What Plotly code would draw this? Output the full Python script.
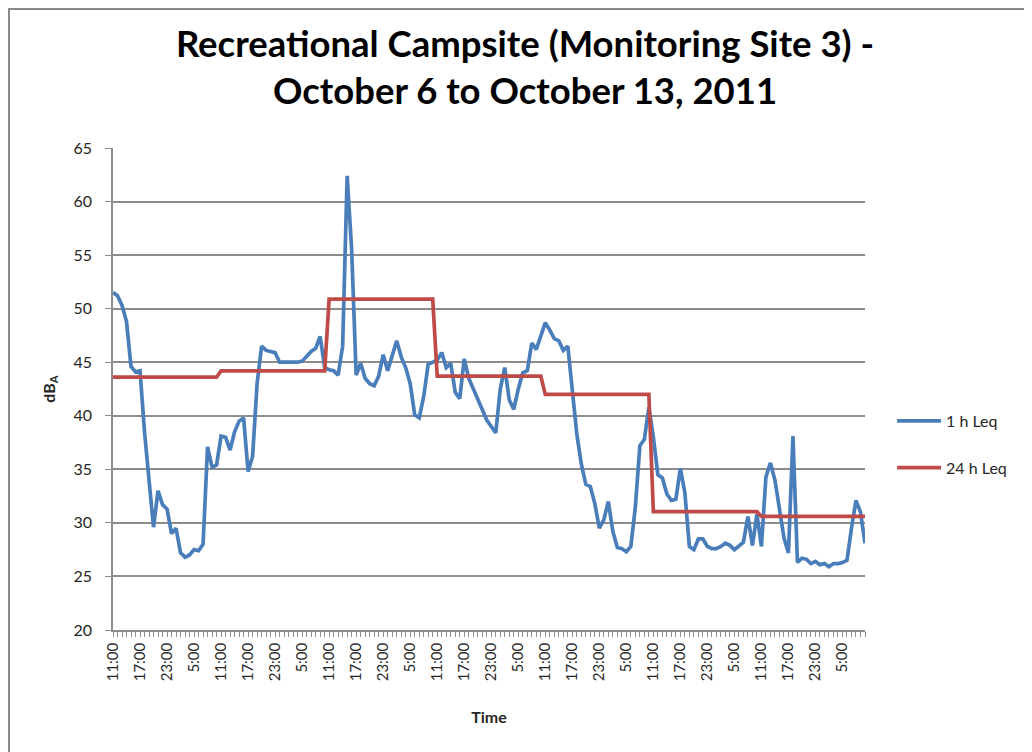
import plotly.graph_objects as go

# hourly readings, Oct 6 11:00 -> Oct 13 10:00 (168 hours)
leq_1h = [
    51.5, 51.2, 50.3, 48.8, 44.6, 44.1, 44.2, 38.5, 34.0, 29.6,
    33.0, 31.7, 31.3, 29.0, 29.5, 27.2, 26.8, 27.0, 27.5, 27.4,
    28.0, 37.1, 35.2, 35.4, 38.1, 38.0, 36.8, 38.5, 39.5, 39.8,
    34.8, 36.2, 43.0, 46.5, 46.1, 46.0, 45.9, 45.0, 45.0, 45.0,
    45.0, 45.0, 45.1, 45.6, 46.0, 46.3, 47.4, 44.5, 44.3, 44.2,
    43.8, 46.5, 62.4, 55.5, 43.8, 44.9, 43.5, 43.0, 42.8, 43.7,
    45.7, 44.2, 45.6, 47.0, 45.5, 44.5, 43.0, 40.1, 39.8, 41.8,
    44.8, 45.0, 45.2, 45.9, 44.5, 44.9, 42.2, 41.6, 45.3, 43.5,
    42.5, 41.4, 40.4, 39.6, 39.0, 38.4, 42.5, 44.5, 41.5, 40.6,
    42.5, 44.0, 44.2, 46.8, 46.2, 47.5, 48.7, 48.0, 47.2, 47.0,
    46.1, 46.5, 42.2, 38.3, 35.5, 33.6, 33.4, 31.8, 29.5, 30.3,
    32.0, 29.2, 27.7, 27.6, 27.3, 27.8, 31.5, 37.2, 37.8, 40.8,
    38.0, 34.5, 34.2, 32.7, 32.1, 32.2, 35.1, 32.8, 27.8, 27.5,
    28.5, 28.5, 27.8, 27.6, 27.6, 27.8, 28.1, 27.9, 27.5, 27.9,
    28.2, 30.6, 27.9, 30.8, 27.8, 34.3, 35.6, 34.0, 31.2, 28.6,
    27.2, 38.1, 26.3, 26.7, 26.6, 26.2, 26.4, 26.1, 26.2, 25.9,
    26.2, 26.2, 26.3, 26.5, 29.5, 32.1, 31.0, 28.1,
]

# one 24 h value per day window (11:00 to 10:00)
leq_24h_daily = [43.6, 44.2, 50.9, 43.7, 42.0, 31.05, 30.6]
leq_24h = [v for v in leq_24h_daily for _ in range(24)]

start_hour = 11
hours = list(range(len(leq_1h)))
hour_labels = ["%d:00" % ((start_hour + h) % 24) for h in hours]
tick_text = [lab if h % 6 == 0 else "" for h, lab in zip(hours, hour_labels)]

BLUE = "#4a7ebb"
RED = "#be4b48"
GRID = "#8c8c8c"
FONT = "Lato"

fig = go.Figure()
fig.add_trace(go.Scatter(x=hours, y=leq_1h, name="1 h Leq", mode="lines",
                         line=dict(color=BLUE, width=3.7), legendgroup="a"))
fig.add_trace(go.Scatter(x=hours, y=leq_24h, name="24 h Leq", mode="lines",
                         line=dict(color=RED, width=3.7), legendgroup="b"))

# plot area in pixels (the page body adds ~8px offset)
W, H = 1032, 752
L, R, T, B = 105, 175, 140, 130
pw, ph = W - L - R, H - T - B

fig.update_layout(
    width=W, height=H,
    margin=dict(l=L, r=R, t=T, b=B, autoexpand=False),
    paper_bgcolor="white", plot_bgcolor="white",
    font=dict(family=FONT, size=15, color="#262626"),
    title=dict(text="<b>Recreational Campsite (Monitoring Site 3) -<br>October 6 to October 13, 2011</b>",
               x=517 / W, xanchor="center", y=0.935, yanchor="top",
               font=dict(family=FONT, size=36.5, color="black")),
    legend=dict(x=1.036, xanchor="left", y=0.385, yanchor="middle", itemwidth=44,
                font=dict(size=16), tracegroupgap=23, bgcolor="rgba(0,0,0,0)"),
    showlegend=True,
)

fig.update_xaxes(
    range=[0, len(hours) - 1], automargin=False,
    tickmode="array", tickvals=hours, ticktext=tick_text,
    tickangle=-90, ticks="outside", ticklen=5, tickcolor=GRID,
    showline=True, linecolor=GRID, linewidth=1.5,
    showgrid=False, zeroline=False,
    title=dict(text="<b>Time</b>", font=dict(size=16), standoff=31),
    tickfont=dict(size=15),
)
fig.update_yaxes(
    range=[20, 65], dtick=5, tick0=20, automargin=False,
    ticks="outside", ticklen=6, tickcolor=GRID,
    showline=True, linecolor=GRID, linewidth=1.5,
    showgrid=True, gridcolor=GRID, gridwidth=1.5,
    zeroline=False, ticklabelstandoff=10,
    title=dict(text="<b>dB<sub>A</sub></b>", font=dict(size=16), standoff=14),
    tickfont=dict(size=16),
)

# chart-area border (only left and top edges fall inside the picture)
fig.add_shape(type="rect", xref="paper", yref="paper",
              x0=(1 - L) / pw, x1=(W + 20 - L) / pw,
              y0=-(B + 20) / ph, y1=(ph + T - 1) / ph,
              line=dict(color="#8a8a8a", width=2), fillcolor="rgba(0,0,0,0)", layer="below")

fig.write_html("out.html")
